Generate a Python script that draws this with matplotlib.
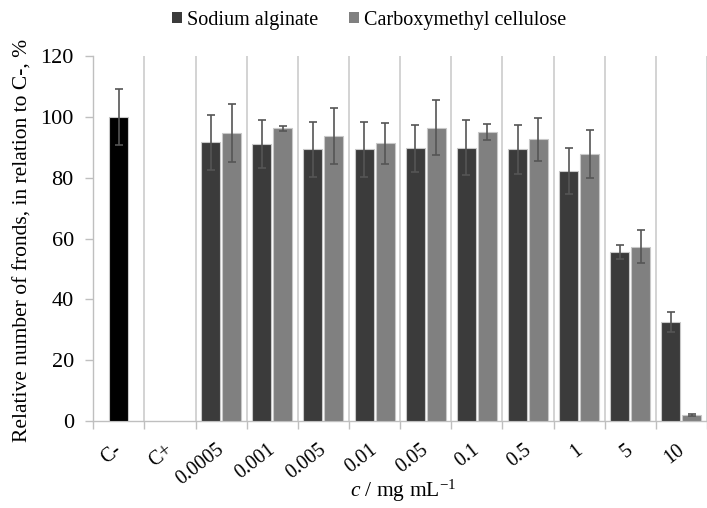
import numpy as np
import matplotlib
matplotlib.use("Agg")
import matplotlib.pyplot as plt
from matplotlib.patches import Patch
from matplotlib.transforms import ScaledTranslation

plt.rcParams["font.family"] = ["Liberation Serif", "DejaVu Serif"]
plt.rcParams["mathtext.fontset"] = "custom"
plt.rcParams["mathtext.rm"] = "Liberation Serif"
plt.rcParams["mathtext.it"] = "Liberation Serif:italic"

categories = ["C-", "C+", "0.0005", "0.001", "0.005", "0.01", "0.05",
              "0.1", "0.5", "1", "5", "10"]
control = 100.0  # C-
control_err = 9.2
# values for the 10 concentrations (C+ has no bars)
sodium_alginate = [91.6, 91.2, 89.3, 89.3, 89.6, 89.9, 89.3, 82.2, 55.5, 32.6]
sodium_alginate_err = [9.0, 7.9, 9.0, 9.0, 7.6, 9.0, 8.0, 7.5, 2.2, 3.2]
cmc = [94.6, 96.2, 93.7, 91.3, 96.4, 95.1, 92.6, 87.8, 57.3, 2.1]
cmc_err = [9.5, 0.8, 9.2, 6.8, 9.0, 2.6, 7.0, 8.0, 5.4, 0.3]

W, H = 707, 508
fig = plt.figure(figsize=(W / 100, H / 100), dpi=100)
ax = fig.add_axes([93.3 / W, 1 - 421 / H, 1 - 93.3 / W, (421 - 56) / H])

width = 0.37
off = 0.205
edge = "#c8c8c8"
ekw = dict(ecolor="#555555", elinewidth=1.2, capsize=3, capthick=1.2)

x = np.arange(len(categories))
xc = x[2:]

ax.bar(0, control, width, color="black", edgecolor=edge, linewidth=0.8,
       yerr=control_err, error_kw=ekw, zorder=3)
ax.bar(xc - off, sodium_alginate, width, color="#3b3b3b", edgecolor=edge,
       linewidth=0.8, yerr=sodium_alginate_err, error_kw=ekw, zorder=3)
ax.bar(xc + off, cmc, width, color="#808080", edgecolor=edge,
       linewidth=0.8, yerr=cmc_err, error_kw=ekw, zorder=3)

ax.set_xlim(-0.5, -0.5 + (W - 93.3) / 52.0)
ax.set_ylim(0, 120)
ax.set_yticks(np.arange(0, 121, 20))
ax.tick_params(axis="y", labelsize=16, length=6, color="#bfbfbf", width=1, pad=8)

# group boundaries as major ticks + vertical lines
bounds = np.arange(-0.5, len(categories), 1.0)
ax.set_xticks(bounds)
ax.set_xticklabels([])
ax.tick_params(axis="x", which="major", length=6, color="#bfbfbf", width=1)
for b in bounds[1:]:
    ax.axvline(b, color="#d0d0d0", linewidth=1.3, zorder=1)

ax.set_xticks(x, minor=True)
ax.set_xticklabels(categories, minor=True, rotation=38, ha="right",
                   rotation_mode="anchor", fontsize=14.5)
ax.tick_params(axis="x", which="minor", length=0, pad=14)
shift = ScaledTranslation(-5 / 100, 0, fig.dpi_scale_trans)
for lab in ax.get_xticklabels(minor=True):
    lab.set_transform(lab.get_transform() + shift)

for s in ["top", "right"]:
    ax.spines[s].set_visible(False)
for s in ["left", "bottom"]:
    ax.spines[s].set_color("#bfbfbf")
    ax.spines[s].set_linewidth(1)

fig.text(23 / W, 1 - 240 / H, "Relative number of fronds, in relation to C-, %",
         rotation=90, ha="center", va="center", fontsize=15.5,
         family="Liberation Serif")
fig.text(403 / W, 1 - 497 / H, r"$c$ / mg mL$^{-1}$", ha="center", va="baseline",
         fontsize=15.5)

handles = [Patch(facecolor="#3b3b3b", label="Sodium alginate"),
           Patch(facecolor="#808080", label="Carboxymethyl cellulose")]
fig.legend(handles=handles, loc="center", bbox_to_anchor=(369 / W, 1 - 20 / H),
           ncol=2, frameon=False, prop=dict(family="Liberation Serif", size=14.5),
           handlelength=0.5, handleheight=0.5, handletextpad=0.25,
           columnspacing=1.5)

fig.savefig("out.png", dpi=100)
